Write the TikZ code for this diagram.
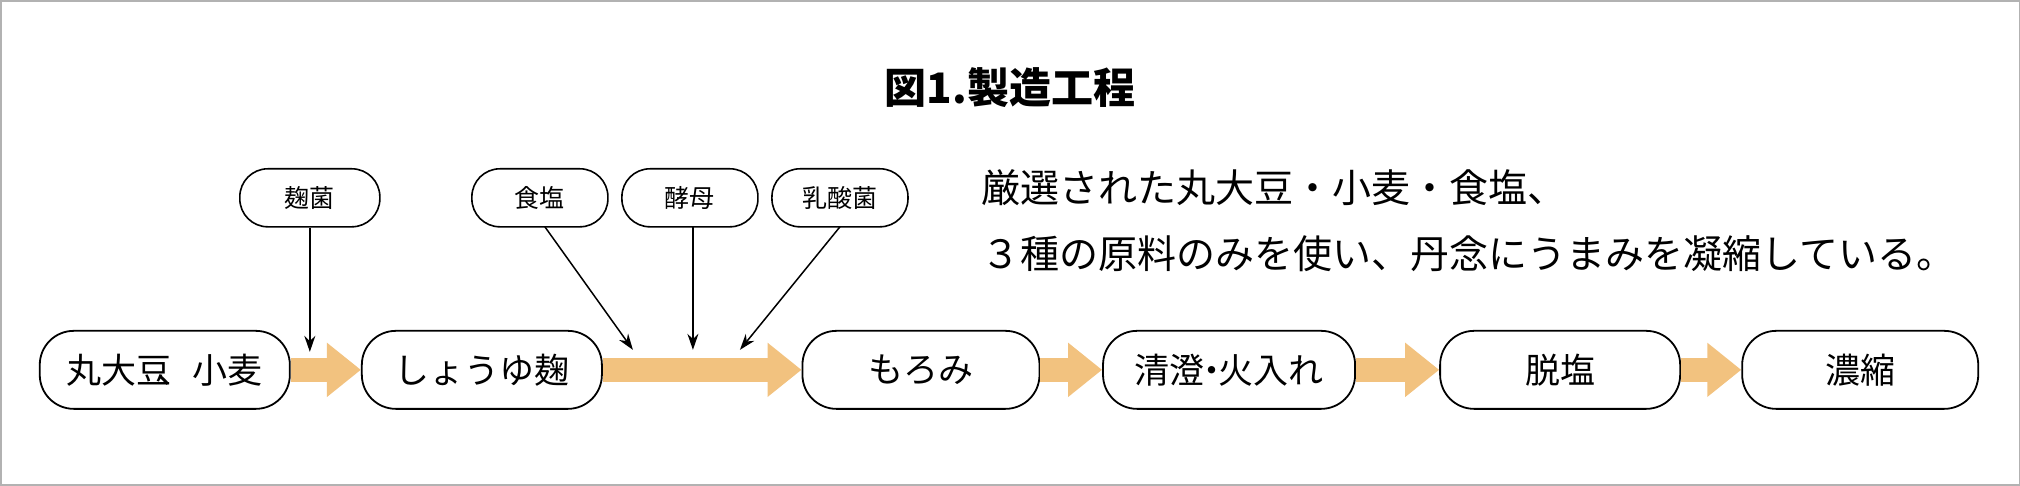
\documentclass[tikz,border=0pt]{standalone}
\usepackage{fontspec}
\setmainfont{Noto Sans CJK JP}
\usetikzlibrary{arrows.meta}
\begin{document}
\begin{tikzpicture}[x=1pt,y=-1pt,
  box/.style={draw,line width=1.8pt,rounded corners=34pt,minimum width=236pt,minimum height=78pt,font=\fontsize{35}{40}\selectfont,inner sep=0pt},
  sbox/.style={draw,line width=1.6pt,rounded corners=28pt,minimum width=136pt,minimum height=58pt,font=\fontsize{25}{30}\selectfont,inner sep=0pt},
  flow/.style={color={rgb,255:red,242;green,194;blue,127},line width=24pt,-{Triangle[length=34pt,width=52pt]}},
  thin/.style={line width=1.5pt,-{Stealth[length=16pt,width=11pt]}}]
\draw[gray!60,line width=1.5pt] (1,1) rectangle (2019,485);
\node[font=\bfseries\fontsize{42}{48}\selectfont] (title) at (1010,88) {図1.製造工程};
\node[box,minimum width=250pt] (a) at (165,370) {丸大豆\kern-0.4em 、小麦};
\node[box,minimum width=240pt] (b) at (482,370) {しょうゆ麹};
\node[box,minimum width=237pt] (c) at (921,370) {もろみ};
\node[box,minimum width=252pt] (d) at (1229,370) {清澄\kern-0.3em ・\kern-0.3em 火入れ};
\node[box,minimum width=240pt] (e) at (1560,370) {脱塩};
\node[box,minimum width=236pt] (f) at (1860,370) {濃縮};
\foreach \p/\q in {a/b,b/c,c/d,d/e,e/f}
  \draw[flow] (\p.east) -- (\q.west);
\node[sbox,minimum width=140pt] (k) at (310,198) {麹菌};
\node[sbox] (s) at (540,198) {食塩};
\node[sbox] (y) at (690,198) {酵母};
\node[sbox] (n) at (840,198) {乳酸菌};
\coordinate (k1) at (310,352);
\coordinate (s1) at (633,350);
\coordinate (y1) at (693,350);
\coordinate (n1) at (740,350);
\draw[thin] (k.south) -- (k1);
\draw[thin] (545,227) -- (s1);
\draw[thin] (693,227) -- (y1);
\draw[thin] (840,227) -- (n1);
\node[anchor=west,font=\fontsize{39}{44}\selectfont] (t1) at (978,188) {厳選された丸大豆・小麦・食塩、};
\node[anchor=west,font=\fontsize{39}{44}\selectfont] (t2) at (978,254) {３種の原料のみを使い、丹念にうまみを凝縮している。};
\end{tikzpicture}
\end{document}
